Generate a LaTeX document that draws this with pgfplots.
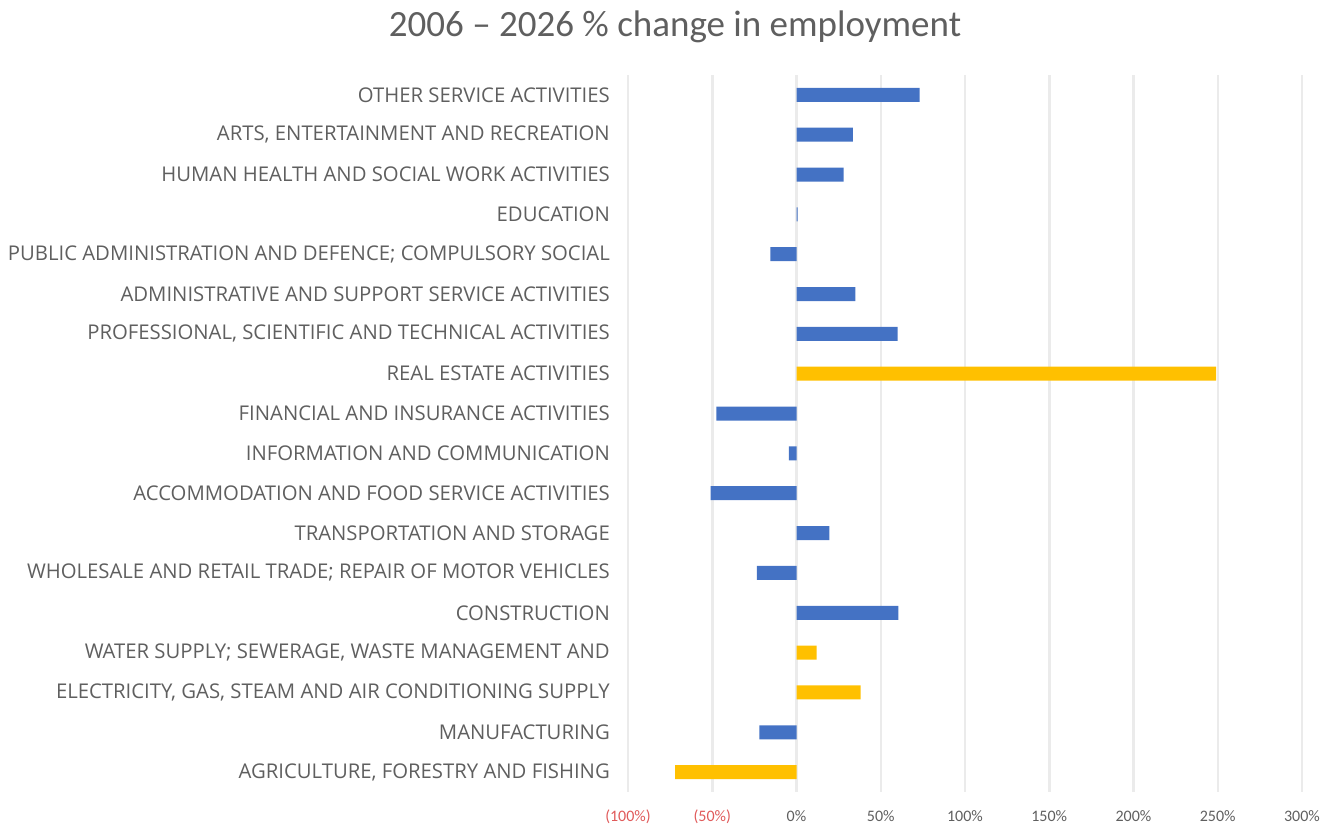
\documentclass[border=0pt]{standalone}
\usepackage{pgfplots}
\pgfplotsset{compat=1.18}
\usepackage{fontspec}
\setmainfont{Open Sans}
\newfontfamily\titlefont{Carlito}

\definecolor{barblue}{HTML}{4472C4}
\definecolor{baryellow}{HTML}{FFC000}
\definecolor{labelgray}{HTML}{5F5F5F}
\definecolor{negred}{HTML}{E05A5A}
\definecolor{gridgray}{HTML}{EBEBEB}

\begin{document}
\begin{tikzpicture}[x=1pt,y=1pt]
\useasboundingbox (0,0) rectangle (1344,828);
\begin{axis}[
    at={(628pt,36pt)}, anchor=south west,
    scale only axis, width=674pt, height=717pt,
    xbar, bar width=14pt, bar shift=0pt,
    xmin=-100, xmax=300, ymin=-0.5, ymax=17.5,
    xtick={-100,-50,...,300},
    xticklabels={{\color{negred}(100\%)},{\color{negred}(50\%)},0\%,50\%,100\%,150\%,200\%,250\%,300\%},
    ytick={0,...,17},
    yticklabels={
        {AGRICULTURE, FORESTRY AND FISHING},
        MANUFACTURING,
        {ELECTRICITY, GAS, STEAM AND AIR CONDITIONING SUPPLY},
        {WATER SUPPLY; SEWERAGE, WASTE MANAGEMENT AND},
        CONSTRUCTION,
        WHOLESALE AND RETAIL TRADE; REPAIR OF MOTOR VEHICLES,
        TRANSPORTATION AND STORAGE,
        ACCOMMODATION AND FOOD SERVICE ACTIVITIES,
        INFORMATION AND COMMUNICATION,
        FINANCIAL AND INSURANCE ACTIVITIES,
        REAL ESTATE ACTIVITIES,
        {PROFESSIONAL, SCIENTIFIC AND TECHNICAL ACTIVITIES},
        ADMINISTRATIVE AND SUPPORT SERVICE ACTIVITIES,
        PUBLIC ADMINISTRATION AND DEFENCE; COMPULSORY SOCIAL,
        EDUCATION,
        HUMAN HEALTH AND SOCIAL WORK ACTIVITIES,
        {ARTS, ENTERTAINMENT AND RECREATION},
        OTHER SERVICE ACTIVITIES},
    axis line style={draw=none},
    major tick length=0pt,
    xmajorgrids, major grid style={gridgray, line width=2.5pt},
    yticklabel style={font=\fontsize{20.3}{20.3}\selectfont, text=labelgray,
        anchor=east, inner sep=0pt, xshift=-18pt},
    xticklabel style={font=\titlefont\fontsize{16}{16}\selectfont, text=labelgray,
        anchor=north, inner sep=0pt, yshift=-18pt},
]
\addplot[fill=barblue, draw=none] coordinates {
    (-22,1) (60.5,4) (-23.5,5) (19.5,6) (-51,7) (-4.5,8) (-47.5,9)
    (60,11) (35,12) (-15.5,13) (0.6,14) (28,15) (33.5,16) (73,17)
};
\addplot[fill=baryellow, draw=none] coordinates {
    (-72,0) (38,2) (12,3) (249,10)
};
\end{axis}
\node[font=\titlefont\fontsize{37}{37}\selectfont, text=labelgray] at (675,801) {2006 – 2026 \% change in employment};
\end{tikzpicture}
\end{document}
